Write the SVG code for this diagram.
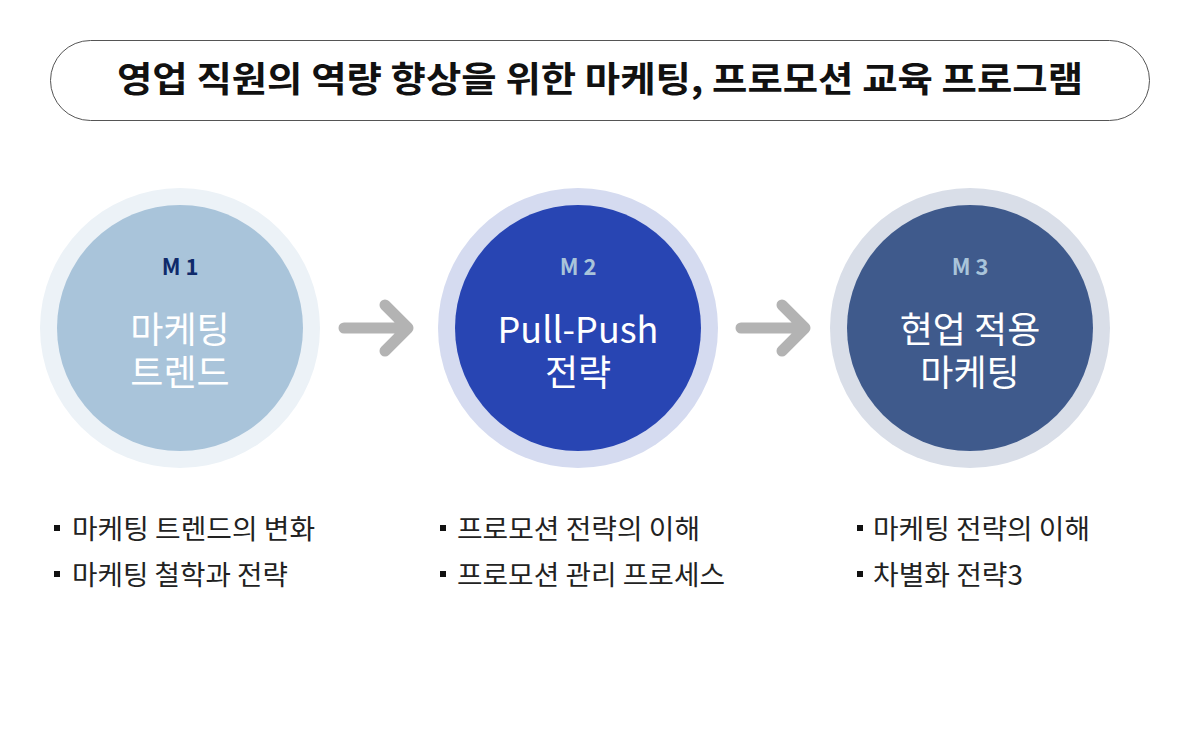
<svg xmlns="http://www.w3.org/2000/svg" width="1200" height="730" viewBox="0 0 1200 730">
<style>
text{font-family:"Noto Sans CJK KR","Noto Sans",sans-serif}
.title{font-size:35px;font-weight:700;fill:#111}
.code{font-size:22px;font-weight:700;text-anchor:middle}
.main{font-size:36px;fill:#fff;text-anchor:middle}
.item{font-size:27px;fill:#222}
.arrow{fill:none;stroke:#b3b3b3;stroke-width:11;stroke-linecap:round;stroke-linejoin:round}
</style>
<rect width="1200" height="730" fill="#fff"/>
<g id="title">
<rect x="50.5" y="40.5" width="1099" height="80" rx="40" fill="#fff" stroke="#555" stroke-width="1"/>
<text class="title" x="117" y="92" textLength="966" lengthAdjust="spacingAndGlyphs">영업 직원의 역량 향상을 위한 마케팅, 프로모션 교육 프로그램</text>
</g>
<g id="connectors">
<path class="arrow" d="M344 328H405M385 305L408 328L385 351"/>
<path class="arrow" d="M741 328H802M782 305L805 328L782 351"/>
</g>
<g id="m1">
<circle cx="180" cy="328" r="140" fill="#ecf2f7"/>
<circle cx="180" cy="328" r="123" fill="#a9c4da"/>
<text class="code" x="180" y="275" fill="#0f2a6a">M 1</text>
<text class="main" x="180" y="343">마케팅</text>
<text class="main" x="180" y="386">트렌드</text>
</g>
<g id="m2">
<circle cx="578" cy="328" r="140" fill="#d5dbf0"/>
<circle cx="578" cy="328" r="123" fill="#2845b3"/>
<text class="code" x="578" y="275" fill="#a9c4da">M 2</text>
<text class="main" x="578" y="343">Pull-Push</text>
<text class="main" x="578" y="386">전략</text>
</g>
<g id="m3">
<circle cx="970" cy="328" r="140" fill="#d9dee8"/>
<circle cx="970" cy="328" r="123" fill="#3f5a8c"/>
<text class="code" x="970" y="275" fill="#a9c4da">M 3</text>
<text class="main" x="970" y="343">현업 적용</text>
<text class="main" x="970" y="386">마케팅</text>
</g>
<g id="list1">
<rect x="54" y="525" width="6" height="6" fill="#111"/>
<text class="item" x="72" y="539" textLength="243" lengthAdjust="spacingAndGlyphs">마케팅 트렌드의 변화</text>
<rect x="54" y="571" width="6" height="6" fill="#111"/>
<text class="item" x="72" y="585" textLength="216" lengthAdjust="spacingAndGlyphs">마케팅 철학과 전략</text>
</g>
<g id="list2">
<rect x="440" y="525" width="6" height="6" fill="#111"/>
<text class="item" x="457" y="539" textLength="243" lengthAdjust="spacingAndGlyphs">프로모션 전략의 이해</text>
<rect x="440" y="571" width="6" height="6" fill="#111"/>
<text class="item" x="457" y="585" textLength="268" lengthAdjust="spacingAndGlyphs">프로모션 관리 프로세스</text>
</g>
<g id="list3">
<rect x="857" y="525" width="6" height="6" fill="#111"/>
<text class="item" x="873" y="539" textLength="217" lengthAdjust="spacingAndGlyphs">마케팅 전략의 이해</text>
<rect x="857" y="571" width="6" height="6" fill="#111"/>
<text class="item" x="873" y="585" textLength="150" lengthAdjust="spacingAndGlyphs">차별화 전략3</text>
</g>
</svg>
